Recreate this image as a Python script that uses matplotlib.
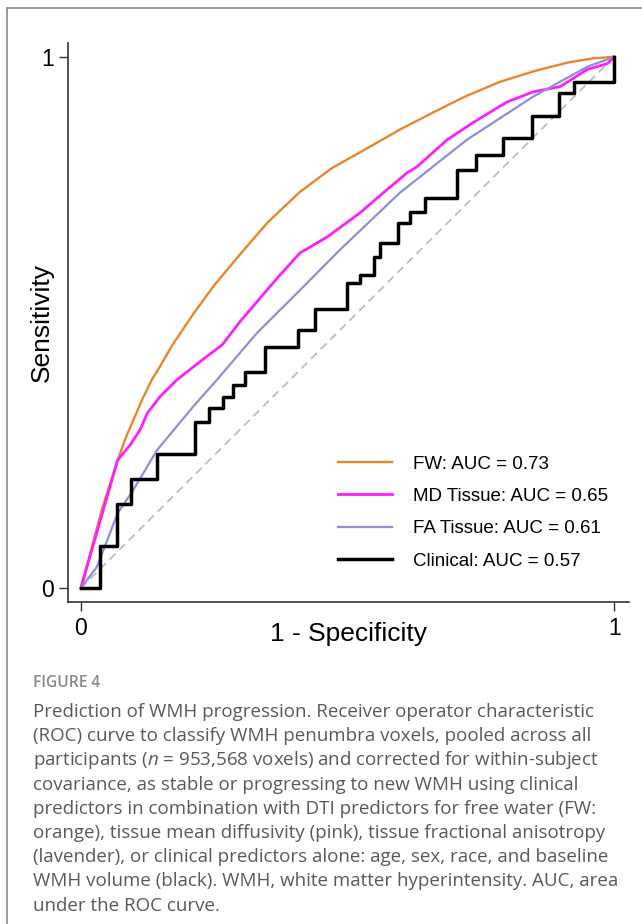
import matplotlib
matplotlib.use("Agg")
import matplotlib.pyplot as plt
from matplotlib.lines import Line2D

plt.rcParams['font.family'] = ['Liberation Sans', 'DejaVu Sans']
plt.rcParams['mathtext.fontset'] = 'custom'
plt.rcParams['mathtext.it'] = 'Open Sans:italic'
plt.rcParams['mathtext.rm'] = 'Open Sans'

# ROC curves (1 - specificity, sensitivity)
fw_fpr = [0, 0.02, 0.04, 0.069, 0.085, 0.10, 0.115, 0.133, 0.15, 0.17, 0.21, 0.25,
          0.30, 0.35, 0.411, 0.47, 0.537, 0.60, 0.66, 0.72, 0.786, 0.85, 0.912,
          0.96, 1.0]
fw_tpr = [0, 0.075, 0.15, 0.241, 0.285, 0.32, 0.355, 0.392, 0.42, 0.455, 0.515, 0.57,
          0.63, 0.688, 0.746, 0.79, 0.828, 0.864, 0.895, 0.925, 0.953, 0.973, 0.989,
          0.997, 1.0]

md_fpr = [0, 0.03, 0.069, 0.092, 0.111, 0.125, 0.148, 0.18, 0.223, 0.265, 0.298,
          0.336, 0.373, 0.411, 0.462, 0.523, 0.567, 0.612, 0.630, 0.687, 0.735,
          0.799, 0.848, 0.899, 0.949, 0.987, 1.0]
md_tpr = [0, 0.105, 0.241, 0.269, 0.298, 0.330, 0.360, 0.392, 0.426, 0.458, 0.501,
          0.546, 0.589, 0.631, 0.661, 0.706, 0.744, 0.782, 0.793, 0.844, 0.876,
          0.915, 0.934, 0.944, 0.976, 0.987, 1.0]

fa_fpr = [0, 0.030, 0.069, 0.096, 0.143, 0.21, 0.255, 0.33, 0.411, 0.486, 0.598,
          0.724, 0.848, 0.949, 1.0]
fa_tpr = [0, 0.040, 0.141, 0.181, 0.26, 0.341, 0.392, 0.48, 0.561, 0.637, 0.744,
          0.844, 0.925, 0.981, 1.0]

# clinical model: staircase corners
cl_fpr = [0, 0.036, 0.068, 0.094, 0.143, 0.214, 0.240, 0.266, 0.285, 0.308, 0.345,
          0.407, 0.439, 0.499, 0.523, 0.550, 0.561, 0.595, 0.617, 0.645, 0.705,
          0.741, 0.792, 0.846, 0.897, 0.925, 1.0]
cl_tpr = [0, 0.079, 0.158, 0.205, 0.252, 0.313, 0.339, 0.360, 0.382, 0.407, 0.454,
          0.486, 0.525, 0.574, 0.589, 0.623, 0.650, 0.687, 0.708, 0.734, 0.787,
          0.815, 0.847, 0.889, 0.932, 0.953, 1.0]

labels = ['FW: AUC = 0.73', 'MD Tissue: AUC = 0.65',
          'FA Tissue: AUC = 0.61', 'Clinical: AUC = 0.57']
colors = ['#E8862E', '#FF1EFF', '#8F8FD6', 'black']

caption = [
    "Prediction of WMH progression. Receiver operator characteristic",
    "(ROC) curve to classify WMH penumbra voxels, pooled across all",
    "participants ($n$ = 953,568 voxels) and corrected for within-subject",
    "covariance, as stable or progressing to new WMH using clinical",
    "predictors in combination with DTI predictors for free water (FW:",
    "orange), tissue mean diffusivity (pink), tissue fractional anisotropy",
    "(lavender), or clinical predictors alone: age, sex, race, and baseline",
    "WMH volume (black). WMH, white matter hyperintensity. AUC, area",
    "under the ROC curve.",
]

fig = plt.figure(figsize=(6.42, 9.24), dpi=100)
ax = fig.add_axes([0.106, 0.3485, 0.874, 0.605])

ax.plot([0, 1], [0, 1], color='#BDBDBD', lw=1.3, ls=(0, (4.5, 3)))
ax.plot(fw_fpr, fw_tpr, color=colors[0], lw=1.7, label=labels[0])
ax.plot(md_fpr, md_tpr, color=colors[1], lw=2.0, label=labels[1])
ax.plot(fa_fpr, fa_tpr, color=colors[2], lw=1.6, label=labels[2])
ax.plot(cl_fpr, cl_tpr, color=colors[3], lw=2.5, drawstyle='steps-post',
        label=labels[3])

ax.set_xlim(-0.024, 1.028)
ax.set_ylim(-0.026, 1.026)
ax.set_xticks([0, 1])
ax.set_yticks([0, 1])
ax.set_xticklabels(['0', '1'])
ax.set_yticklabels(['0', '1'])
ax.tick_params(labelsize=16.5, length=6.5, width=1, color='#333333')
ax.tick_params(axis='x', pad=4)
ax.tick_params(axis='y', pad=3.5)
for s in ['top', 'right']:
    ax.spines[s].set_visible(False)
for s in ['left', 'bottom']:
    ax.spines[s].set_color('#333333')
    ax.spines[s].set_linewidth(1.2)

ax.set_xlabel('1 - Specificity', fontsize=19)
ax.set_ylabel('Sensitivity', fontsize=19)
ax.xaxis.set_label_coords(0.499, -0.058)
ax.xaxis.label.set_verticalalignment('center')
ax.yaxis.set_label_coords(-0.046, 0.5)
ax.yaxis.label.set_verticalalignment('center')

ax.legend(loc='center left', bbox_to_anchor=(0.481, 0.16), frameon=False,
          fontsize=13.5, handlelength=2.9, handletextpad=1.1, labelspacing=0.81,
          borderpad=0, borderaxespad=0)

# frame of the figure panel
fig.add_artist(Line2D([7 / 642, 7 / 642], [0, 1 - 8 / 924], color='#8A8A8A', lw=1.2))
fig.add_artist(Line2D([7 / 642, 1], [1 - 8 / 924, 1 - 8 / 924], color='#8A8A8A', lw=1.2))

fig.text(33 / 642, 1 - 683 / 924, 'FIGURE 4', fontsize=11.2, color='#888888',
         family='Open Sans', weight='semibold', va='center')
for i, line in enumerate(caption):
    fig.text(33 / 642, 1 - (712 + 24.2 * i) / 924, line, fontsize=13.5,
             color='#595959', family='Open Sans', va='center')

fig.savefig('out.png', dpi=100)
